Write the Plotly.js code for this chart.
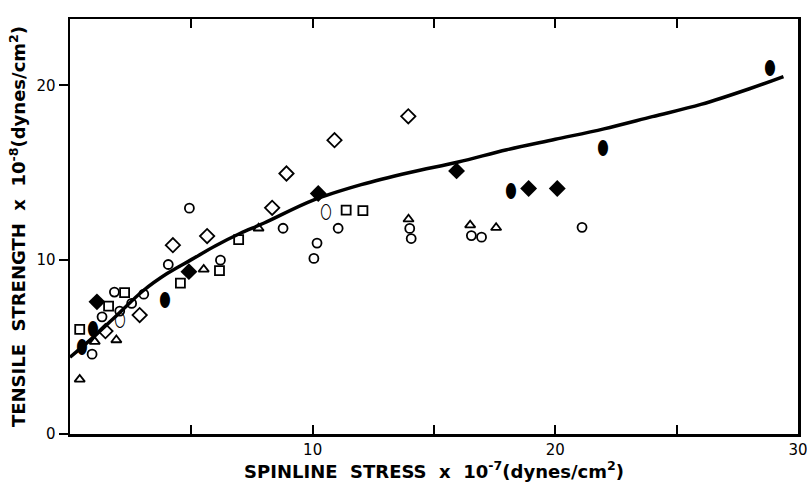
<!DOCTYPE html>
<html>
<head>
<meta charset="utf-8">
<script src="https://cdn.plot.ly/plotly-3.0.1.min.js"></script>
<style>html,body{margin:0;padding:0;background:#fff;}#plot{width:807px;height:483px;}</style>
</head>
<body>
<div id="plot"></div>
<script>
// Fitted curve
const curveX = [0, 1, 2, 3, 4, 5, 6, 7, 8, 10, 12, 14, 16, 18, 20, 22, 24, 26, 28, 29.4];
const curveY = [4.4, 5.6, 6.9, 8.2, 9.2, 10.0, 10.8, 11.5, 12.1, 13.4, 14.3, 15.0, 15.6, 16.3, 16.9, 17.5, 18.2, 18.9, 19.8, 20.5];

// Open circles
const circX = [1.83, 3.04, 2.54, 1.32, 0.91, 2.05, 4.05, 4.92, 6.20, 8.78, 11.05, 10.18, 10.05, 14.00, 14.06, 16.54, 16.96, 21.10];
const circY = [8.14, 8.02, 7.49, 6.72, 4.58, 7.05, 9.72, 12.95, 9.97, 11.80, 11.80, 10.95, 10.07, 11.79, 11.21, 11.38, 11.29, 11.85];

// Open squares
const sqX = [0.40, 1.59, 2.25, 4.55, 6.16, 6.95, 11.38, 12.07];
const sqY = [6.00, 7.33, 8.11, 8.65, 9.37, 11.15, 12.84, 12.81];

// Open diamonds
const diaX = [1.46, 2.87, 4.24, 5.65, 8.33, 8.92, 10.90, 13.94];
const diaY = [5.90, 6.82, 10.83, 11.35, 12.97, 14.94, 16.85, 18.22];

// Open triangles
const triX = [0.40, 1.02, 1.91, 5.51, 7.77, 13.95, 16.49, 17.56];
const triY = [3.13, 5.30, 5.39, 9.44, 11.80, 12.32, 11.98, 11.83];

// Filled diamonds
const fdiaX = [1.11, 4.90, 10.23, 15.93, 18.90, 20.08];
const fdiaY = [7.58, 9.31, 13.79, 15.09, 14.08, 14.08];

// Filled ovals
const fovX = [0.49, 0.96, 3.93, 18.16, 21.98, 28.84];
const fovY = [4.91, 5.96, 7.62, 13.87, 16.32, 20.90];

// Open ovals
const oovX = [2.05, 10.54];
const oovY = [6.44, 12.68];

const xTickVals = [10, 20, 30];
const xTickText = ['10', '20', '30'];
const xMinorVals = [5, 15, 25];
const yTickVals = [0, 10, 20];
const yTickText = ['0', '10', '20'];

const ml = {color: '#000', width: 1.8};
const traces = [
  {x: curveX, y: curveY, mode: 'lines', line: {color: '#000', width: 3.5, shape: 'spline', smoothing: 1}},
  {x: circX, y: circY, mode: 'markers', marker: {symbol: 'circle-open', size: 9, color: '#000', line: ml}},
  {x: sqX, y: sqY, mode: 'markers', marker: {symbol: 'square-open', size: 9, color: '#000', line: ml}},
  {x: diaX, y: diaY, mode: 'markers', marker: {symbol: 'diamond-open', size: 11, color: '#000', line: ml}},
  {x: triX, y: triY, mode: 'markers', marker: {symbol: 'triangle-up-open', size: 9, color: '#000', line: ml}},
  {x: fdiaX, y: fdiaY, mode: 'markers', marker: {symbol: 'diamond', size: 13, color: '#000', line: {width: 0}}},
  {x: fovX, y: fovY, mode: 'text', text: fovX.map(() => '\u2B2E'), textposition: 'middle center', textfont: {family: 'DejaVu Sans', size: 19, color: '#000'}},
  {x: oovX, y: oovY, mode: 'text', text: oovX.map(() => '\u2B2F'), textposition: 'middle center', textfont: {family: 'DejaVu Sans', size: 19, color: '#000'}}
];

const layout = {
  width: 807, height: 483,
  margin: {l: 70, r: 9, t: 19, b: 49},
  paper_bgcolor: '#fff', plot_bgcolor: '#fff',
  showlegend: false,
  font: {family: 'DejaVu Sans', color: '#000'},
  xaxis: {
    range: [0, 30], showgrid: false, zeroline: false,
    showline: true, linecolor: '#000', linewidth: 2.5, mirror: 'ticks',
    ticks: 'inside', ticklen: 9, tickwidth: 2, tickcolor: '#000',
    tickmode: 'array', tickvals: xTickVals, ticktext: xTickText,
    ticklabeloverflow: 'allow',
    minor: {tickmode: 'array', tickvals: xMinorVals, ticks: 'inside', ticklen: 9, tickwidth: 2, tickcolor: '#000', showgrid: false},
    tickfont: {family: 'DejaVu Sans', size: 15, color: '#000'},
    title: {text: 'SPINLINE  STRESS  x  10<sup>-7</sup>(dynes/cm<sup>2</sup>)', font: {family: 'DejaVu Sans', size: 18, weight: 'bold', color: '#000'}, standoff: 6}
  },
  yaxis: {
    range: [0, 23.8], showgrid: false, zeroline: false,
    showline: true, linecolor: '#000', linewidth: 2.5, mirror: true,
    ticks: 'outside', ticklen: 9, tickwidth: 2, tickcolor: '#000',
    tickmode: 'array', tickvals: yTickVals, ticktext: yTickText,
    tickfont: {family: 'DejaVu Sans', size: 15, color: '#000'},
    title: {text: 'TENSILE  STRENGTH  x  10<sup>-8</sup>(dynes/cm<sup>2</sup>)', font: {family: 'DejaVu Sans', size: 18, weight: 'bold', color: '#000'}, standoff: 6}
  }
};

Plotly.newPlot('plot', traces, layout, {staticPlot: true, displayModeBar: false});
</script>
</body>
</html>
